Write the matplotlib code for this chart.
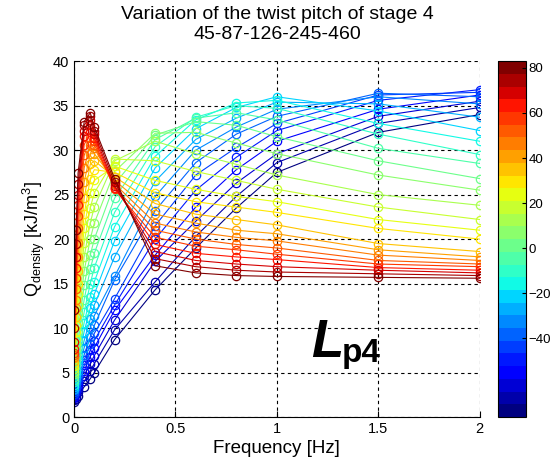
import numpy as np
import matplotlib.pyplot as plt
from matplotlib import colors

plt.rcParams['font.family'] = ['Liberation Sans', 'DejaVu Sans']
plt.rcParams['mathtext.fontset'] = 'custom'
plt.rcParams['mathtext.rm'] = 'Liberation Sans'
plt.rcParams['mathtext.bf'] = 'Liberation Sans:bold'

# frequencies [Hz]
freq = [0, 0.01, 0.02, 0.05, 0.08, 0.1, 0.2, 0.4, 0.6, 0.8, 1.0, 1.5, 2.0]

# colour parameter of each curve
temps = [-72, -66, -61, -55, -50, -44, -38, -33, -27, -22, -16, -11, -5, 1,
         6, 12, 17, 23, 29, 34, 40, 45, 51, 56, 62, 67, 73, 79]

# Q density [kJ/m^3], one row per curve, coldest first
q_01 = [1.7, 2.0, 2.4, 3.4, 4.3, 5.0, 8.7, 14.3, 19.0, 23.5, 27.5, 32.0, 34.0]
q_02 = [1.9, 2.3, 2.8, 4.0, 5.2, 6.0, 9.8, 15.2, 20.3, 24.8, 28.6, 33.0, 34.8]
q_03 = [2.1, 2.6, 3.2, 4.6, 6.0, 6.9, 10.9, 17.5, 22.0, 26.3, 29.6, 33.8, 35.5]
q_04 = [2.3, 2.9, 3.6, 5.2, 6.8, 7.8, 12.0, 18.2, 23.6, 27.8, 31.0, 34.6, 36.2]
q_05 = [2.5, 3.2, 4.0, 5.8, 7.5, 8.6, 12.6, 20.0, 25.5, 29.2, 32.2, 35.6, 36.8]
q_06 = [2.6, 3.4, 4.4, 6.4, 8.2, 9.4, 13.3, 21.5, 27.2, 30.3, 33.0, 36.2, 36.5]
q_07 = [2.8, 3.7, 4.8, 7.0, 9.0, 10.3, 15.4, 23.2, 28.6, 31.8, 33.8, 36.4, 36.0]
q_08 = [3.0, 4.0, 5.2, 7.8, 10.0, 11.4, 15.8, 24.8, 30.0, 32.6, 34.6, 36.0, 35.2]
q_09 = [3.2, 4.4, 5.8, 8.6, 11.0, 12.6, 18.0, 26.5, 31.2, 33.6, 35.4, 35.2, 33.7]
q_10 = [3.4, 4.8, 6.4, 9.6, 12.2, 13.8, 19.8, 28.0, 32.4, 34.8, 36.0, 34.4, 32.2]
q_11 = [3.6, 5.2, 7.0, 10.6, 13.5, 15.2, 21.4, 29.3, 33.4, 35.3, 35.6, 33.0, 31.0]
q_12 = [3.9, 5.8, 7.8, 11.8, 15.0, 16.8, 23.0, 30.4, 33.7, 35.0, 34.7, 31.8, 29.5]
q_13 = [4.2, 6.4, 8.6, 13.2, 16.6, 18.4, 24.6, 31.2, 33.6, 34.2, 33.4, 30.2, 28.5]
q_14 = [4.5, 7.0, 9.6, 14.8, 18.2, 20.0, 26.2, 31.7, 33.2, 32.8, 31.5, 28.8, 26.8]
q_15 = [4.8, 7.6, 10.6, 16.4, 20.0, 21.8, 27.6, 31.9, 32.0, 30.8, 29.6, 27.2, 25.5]
q_16 = [5.1, 8.2, 11.6, 18.0, 21.8, 23.6, 28.8, 31.0, 29.6, 28.4, 27.2, 25.0, 23.8]
q_17 = [5.4, 8.8, 12.6, 19.6, 23.5, 25.2, 29.0, 28.8, 27.6, 26.6, 25.6, 23.6, 22.2]
q_18 = [5.7, 9.6, 13.8, 21.2, 25.2, 26.6, 28.2, 26.6, 25.6, 24.8, 24.2, 22.2, 21.0]
q_19 = [6.0, 10.4, 15.0, 22.8, 26.8, 27.8, 27.5, 25.2, 24.2, 23.6, 23.0, 21.2, 20.0]
q_20 = [6.3, 11.2, 16.4, 24.6, 28.4, 28.8, 27.0, 24.0, 22.8, 22.2, 21.6, 19.5, 18.6]
q_21 = [6.6, 12.2, 18.0, 26.4, 29.6, 29.6, 26.6, 22.8, 21.8, 21.0, 20.6, 18.8, 18.0]
q_22 = [6.8, 13.2, 19.6, 28.0, 30.6, 30.2, 26.2, 21.8, 20.8, 20.2, 19.8, 18.2, 17.6]
q_23 = [7.0, 14.4, 21.2, 29.4, 31.4, 30.6, 25.8, 21.0, 20.0, 19.4, 19.0, 17.6, 17.2]
q_24 = [7.2, 15.6, 22.6, 30.6, 32.0, 31.0, 25.6, 20.2, 19.2, 18.8, 18.3, 17.2, 16.9]
q_25 = [7.6, 16.8, 23.8, 31.6, 32.8, 31.4, 25.8, 19.4, 18.4, 18.0, 17.7, 16.8, 16.5]
q_26 = [8.4, 18.0, 25.0, 32.2, 33.4, 31.8, 26.0, 18.6, 17.6, 17.2, 16.9, 16.5, 16.2]
q_27 = [10.0, 19.5, 26.2, 32.8, 33.8, 32.2, 26.4, 17.8, 16.9, 16.5, 16.3, 16.1, 15.9]
q_28 = [12.0, 21.0, 27.4, 33.2, 34.2, 32.6, 26.8, 17.0, 16.2, 15.9, 15.8, 15.7, 15.6]

curves = [q_01, q_02, q_03, q_04, q_05, q_06, q_07, q_08, q_09, q_10,
          q_11, q_12, q_13, q_14, q_15, q_16, q_17, q_18, q_19, q_20,
          q_21, q_22, q_23, q_24, q_25, q_26, q_27, q_28]

cmap = plt.get_cmap('jet', 28)
norm = colors.Normalize(vmin=-75, vmax=83)

fig = plt.figure(figsize=(5.54, 4.67), dpi=100)
ax = fig.add_axes([0.1336, 0.107, 0.7324, 0.762])
cax = fig.add_axes([0.899, 0.107, 0.0505, 0.762])

for t, q in zip(temps, curves):
    ax.plot(freq, q, '-o', color=cmap(norm(t)), lw=0.8, ms=6,
            mfc='none', mew=0.9)

ax.set_xlim(0, 2)
ax.set_ylim(0, 40)
ax.set_xticks([0, 0.5, 1, 1.5, 2])
ax.set_xticklabels(['0', '0.5', '1', '1.5', '2'])
ax.set_yticks(range(0, 41, 5))
ax.grid(True, color='black', linestyle=(0, (3, 3)), linewidth=0.8)
ax.spines['top'].set_visible(False)
ax.spines['right'].set_visible(False)
ax.tick_params(direction='in', labelsize=10.5, length=4)
ax.set_xlabel('Frequency [Hz]', fontsize=13.5, labelpad=3)
ax.set_ylabel(r'Q$_{\mathrm{density}}$ [kJ/m$^3$]', fontsize=13, labelpad=4)
ax.set_title('Variation of the twist pitch of stage 4\n45-87-126-245-460',
             fontsize=14, linespacing=1.2, pad=16)

sm = plt.cm.ScalarMappable(cmap=cmap, norm=norm)
cb = fig.colorbar(sm, cax=cax, ticks=[80, 60, 40, 20, 0, -20, -40])
cb.ax.tick_params(direction='in', labelsize=9.5, length=3, pad=2)
cb.outline.set_linewidth(0.8)

fig.text(0.562, 0.236, 'L', fontsize=38, fontweight='bold', style='italic')
fig.text(0.616, 0.225, 'p4', fontsize=24, fontweight='bold')

fig.savefig('out.png', dpi=100)
